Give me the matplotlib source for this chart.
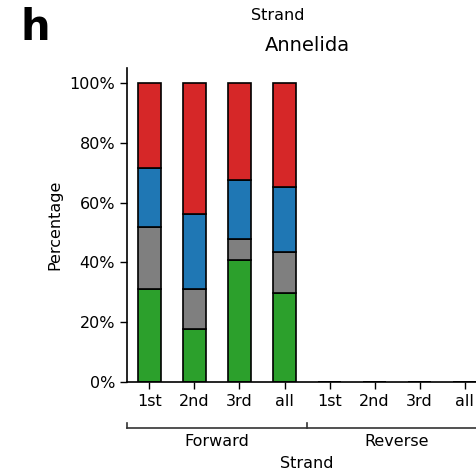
import matplotlib
matplotlib.use("Agg")
import matplotlib.pyplot as plt
import matplotlib.transforms as mtransforms
import numpy as np

# Codon-position composition per strand (fractions)
positions = ["1st", "2nd", "3rd", "all", "1st", "2nd", "3rd", "all"]
strands = ["Forward", "Reverse"]
green = [0.311, 0.178, 0.407, 0.299, 0, 0, 0, 0]
gray = [0.206, 0.134, 0.071, 0.136, 0, 0, 0, 0]
blue = [0.198, 0.249, 0.198, 0.216, 0, 0, 0, 0]
red = [0.285, 0.439, 0.324, 0.349, 0, 0, 0, 0]

series = [green, gray, blue, red]
colors = ["#2ca02c", "#7f7f7f", "#1f77b4", "#d62728"]

W, H = 477, 472
fig = plt.figure(figsize=(W / 100, H / 100), dpi=100)
ax = fig.add_axes([127 / W, 90 / H, 360 / W, 314 / H])

x = np.arange(len(positions))
bottom = np.zeros(len(positions))
for vals, c in zip(series, colors):
    vals = np.array(vals)
    ax.bar(x, vals, width=0.5, bottom=bottom, color=c, edgecolor="black",
           linewidth=1.2)
    bottom += vals

ax.set_xlim(-0.5, 7.5)
ax.set_ylim(0, 1.05)
ax.set_yticks([0, 0.2, 0.4, 0.6, 0.8, 1.0])
ax.set_yticklabels(["0%", "20%", "40%", "60%", "80%", "100%"])
ax.set_xticks(x)
ax.set_xticklabels(positions)
ax.tick_params(labelsize=11.5, width=1.0, length=5)
for s in ["top", "right"]:
    ax.spines[s].set_visible(False)
ax.spines["left"].set_linewidth(1.2)
ax.spines["bottom"].set_linewidth(1.2)
ax.set_ylabel("Percentage", fontsize=11.5, labelpad=5)
ax.set_title("Annelida", fontsize=14, pad=12)

# Group bracket for strands below the tick labels
trans = mtransforms.blended_transform_factory(ax.transData, fig.transFigure)
yb = 1 - 428 / H
ax.plot([-0.5, 7.5], [yb, yb], color="#333333", lw=1.2, transform=trans,
        clip_on=False)
for xv in [-0.5, 3.5]:
    ax.plot([xv, xv], [yb, yb + 5 / H], color="#333333", lw=1.2,
            transform=trans, clip_on=False)
for i, name in enumerate(strands):
    ax.text(1.5 + 4 * i, 1 - 441 / H, name, transform=trans, ha="center",
            va="center", fontsize=11.5)
fig.text(307 / W, 1 - 464 / H, "Strand", ha="center", va="center",
         fontsize=11.5)
fig.text(278 / W, 1 - 15 / H, "Strand", ha="center", va="center",
         fontsize=11.5)
fig.text(21 / W, 1 - 28 / H, "h", ha="left", va="center", fontsize=30,
         fontweight="bold")

fig.savefig("out.png", dpi=100)
